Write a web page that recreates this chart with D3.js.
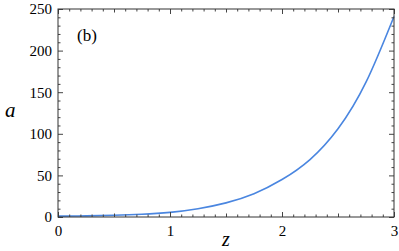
<!DOCTYPE html>
<html>
<head>
<meta charset="utf-8">
<script src="https://cdn.jsdelivr.net/npm/d3@7"></script>
<style>
  body { margin: 0; background: #fff; }
  .tick text { font-family: "Liberation Serif", serif; font-size: 15px; fill: #000; }
  .domain { display: none; }
  .tick line { stroke: #444; }
  .lbl { font-family: "Liberation Serif", serif; }
</style>
</head>
<body>
<div id="chart"></div>
<script>
// values
var z_values = [0, 0.25, 0.5, 0.75, 1, 1.25, 1.5, 1.75, 2, 2.25, 2.5, 2.75, 3];
var a_values = [1, 1.4, 2.1, 3.3, 5.6, 10, 17, 28, 45, 69, 106, 162, 241];

var x_major = [0, 1, 2, 3];
var y_major = [0, 50, 100, 150, 200, 250];

var margin = {top: 9, right: 5, bottom: 34, left: 58},
    width = 399 - margin.left - margin.right,
    height = 251 - margin.top - margin.bottom;

var svg = d3.select("#chart").append("svg")
    .attr("width", 399)
    .attr("height", 251)
  .append("g")
    .attr("transform", "translate(" + margin.left + "," + margin.top + ")");

var x = d3.scaleLinear().domain([0, 3]).range([0, width]);
var y = d3.scaleLinear().domain([0, 250]).range([height, 0]);

var x_minor = d3.range(0, 3.001, 0.1).map(function(d) { return +d.toFixed(1); })
  .filter(function(d) { return x_major.indexOf(d) < 0; });
var x_mid = x_minor.filter(function(d) { return Math.abs(d % 1 - 0.5) < 1e-6; });
x_minor = x_minor.filter(function(d) { return x_mid.indexOf(d) < 0; });
var y_minor = d3.range(0, 251, 10).filter(function(d) { return y_major.indexOf(d) < 0; });

// curve
var line = d3.line()
    .x(function(d, i) { return x(z_values[i]); })
    .y(function(d) { return y(d); })
    .curve(d3.curveNatural);

svg.append("path")
    .datum(a_values)
    .style("fill", "none")
    .style("stroke", "#4a86e0")
    .style("stroke-width", "1.6px")
    .attr("d", line);

// bottom + top
svg.append("g").attr("transform", "translate(0," + height + ")")
    .call(d3.axisBottom(x).tickValues(x_major).tickFormat(d3.format("d")).tickSizeInner(-5).tickSizeOuter(0).tickPadding(8));
svg.append("g").attr("transform", "translate(0," + height + ")")
    .call(d3.axisBottom(x).tickValues(x_mid).tickFormat("").tickSizeInner(-3.5).tickSizeOuter(0));
svg.append("g").attr("transform", "translate(0," + height + ")")
    .call(d3.axisBottom(x).tickValues(x_minor).tickFormat("").tickSizeInner(-2.5).tickSizeOuter(0));
svg.append("g")
    .call(d3.axisTop(x).tickValues(x_major).tickFormat("").tickSizeInner(-5).tickSizeOuter(0));
svg.append("g")
    .call(d3.axisTop(x).tickValues(x_mid).tickFormat("").tickSizeInner(-3.5).tickSizeOuter(0));
svg.append("g")
    .call(d3.axisTop(x).tickValues(x_minor).tickFormat("").tickSizeInner(-2.5).tickSizeOuter(0));

// left + right
svg.append("g")
    .call(d3.axisLeft(y).tickValues(y_major).tickSizeInner(-5).tickSizeOuter(0).tickPadding(6));
svg.append("g")
    .call(d3.axisLeft(y).tickValues(y_minor).tickFormat("").tickSizeInner(-2.5).tickSizeOuter(0));
svg.append("g").attr("transform", "translate(" + width + ",0)")
    .call(d3.axisRight(y).tickValues(y_major).tickFormat("").tickSizeInner(-5).tickSizeOuter(0));
svg.append("g").attr("transform", "translate(" + width + ",0)")
    .call(d3.axisRight(y).tickValues(y_minor).tickFormat("").tickSizeInner(-2.5).tickSizeOuter(0));

// frame
svg.append("rect")
    .attr("x", 0).attr("y", 0)
    .attr("width", width).attr("height", height)
    .style("fill", "none")
    .style("stroke", "#333")
    .style("stroke-width", "1px");

// labels
svg.append("text")
    .attr("class", "lbl")
    .text("(b)")
    .attr("x", 19)
    .attr("y", 32)
    .attr("font-size", "17px");

svg.append("text")
    .attr("class", "lbl")
    .text("a")
    .attr("x", -53)
    .attr("y", 108)
    .attr("font-style", "italic")
    .attr("font-size", "21px");

svg.append("text")
    .attr("class", "lbl")
    .text("z")
    .attr("x", width / 2)
    .attr("y", 237)
    .attr("text-anchor", "middle")
    .attr("font-style", "italic")
    .attr("font-size", "20px");
</script>
</body>
</html>
